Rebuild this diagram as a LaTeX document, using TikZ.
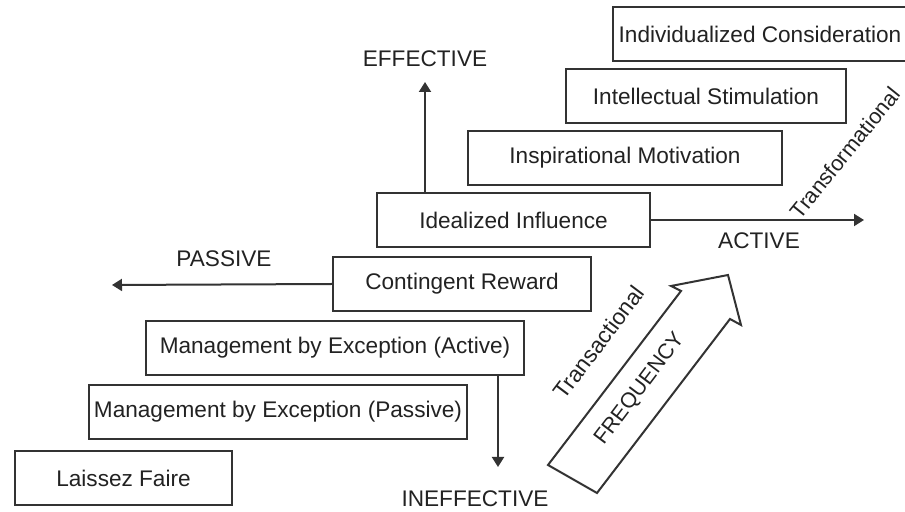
\documentclass[tikz,border=0pt]{standalone}
\usepackage{fontspec}
\setmainfont{Liberation Sans}
\usetikzlibrary{arrows.meta}
\definecolor{ink}{HTML}{222222}
\definecolor{linec}{HTML}{333333}
\tikzset{
  lvlbox/.style={draw=linec, line width=1pt, fill=white, inner sep=0pt, minimum height=27pt, text=ink, font=\fontsize{11.3}{13}\selectfont},
  axarrow/.style={draw=linec, line width=1pt, -{Triangle[length=5pt,width=6pt]}},
  axlabel/.style={text=ink, font=\fontsize{11.3}{13}\selectfont, inner sep=0pt},
  bigarrow/.style={draw=linec, line width=1pt, fill=white, line join=miter}
}
\begin{document}
\begin{tikzpicture}[x=0.5pt,y=-0.5pt]
\useasboundingbox (0,0) rectangle (905,512);
\begin{scope}
\clip (0,0) rectangle (905,512);
\node[lvlbox, minimum width=108.5pt] (lf)  at (123.5,478) {Laissez Faire};
\node[lvlbox, minimum width=189pt]   (mep) at (278,412)   {Management by Exception (Passive)};
\node[lvlbox, minimum width=189pt]   (mea) at (335,348)   {Management by Exception (Active)};
\node[lvlbox, minimum width=129pt]   (cr)  at (462,284)   {Contingent Reward};
\node[lvlbox, minimum width=136.5pt] (ii)  at (513.5,220) {Idealized Influence};
\node[lvlbox, minimum width=157pt]   (im)  at (625,158)   {Inspirational Motivation};
\node[lvlbox, minimum width=140pt]   (is)  at (706,96)    {Intellectual Stimulation};
\node[lvlbox, minimum width=147pt]   (ic)  at (760,34)    {Individualized Consideration};
\end{scope}

\coordinate (uptip) at (425,82);
\coordinate (rtip) at (864,220);
\coordinate (ltip) at (112,285);
\coordinate (dtip) at (498,467);

\draw[axarrow] (uptip |- ii.north) -- (uptip);
\draw[axarrow] (ii.east) -- (rtip);
\draw[axarrow] (cr.west) -- (ltip);
\draw[axarrow] (dtip |- mea.south) -- (dtip);

\node[axlabel] (eff)   at (425,59)  {EFFECTIVE};
\node[axlabel] (act)   at (759,241) {ACTIVE};
\node[axlabel] (pas)   at (224,259) {PASSIVE};
\node[axlabel] (ineff) at (475,499) {INEFFECTIVE};

\draw[bigarrow] (548,465) -- (681,291) -- (671,286) -- (728,275) -- (741,325) -- (730,319) -- (597,493) -- cycle;

\node[axlabel, rotate=53] (trs) at (599,342) {Transactional};
\node[axlabel, rotate=53, font=\fontsize{10.7}{12}\selectfont] (freq) at (640,389) {FREQUENCY};
\node[axlabel, rotate=51, font=\fontsize{10.8}{12}\selectfont] (trf) at (845,153) {Transformational};
\end{tikzpicture}
\end{document}
